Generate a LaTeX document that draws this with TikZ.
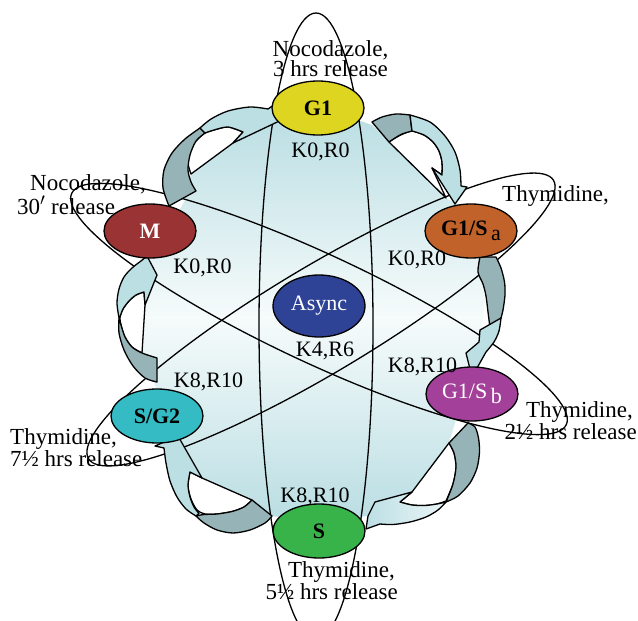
\documentclass[tikz,border=0pt]{standalone}
\usepackage{fontspec}
\setmainfont{Liberation Serif}
\usetikzlibrary{shapes.geometric}
\definecolor{bandlight}{RGB}{188,223,228}
\definecolor{banddark}{RGB}{150,180,183}
\definecolor{blobedge}{RGB}{186,222,227}
\definecolor{blobmid}{RGB}{246,251,251}
\definecolor{cGone}{RGB}{221,213,31}
\definecolor{cM}{RGB}{154,51,51}
\definecolor{cGSa}{RGB}{192,98,42}
\definecolor{cAsync}{RGB}{47,67,150}
\definecolor{cGSb}{RGB}{163,65,154}
\definecolor{cSGtwo}{RGB}{53,187,195}
\definecolor{cS}{RGB}{55,179,74}
\begin{document}
\begin{tikzpicture}[x=1pt,y=-1pt,line join=round,
  outline/.style={draw=black,line width=1.3pt},
  orbit/.style={outline},
  hole/.style={outline,fill=white},
  twist/.style={outline,fill=banddark},
  band/.style={outline,fill=bandlight},
  phase/.style={ellipse,outline,minimum width=92pt,minimum height=54pt,inner sep=0pt,
    font=\fontsize{22pt}{22pt}\selectfont},
  klabel/.style={anchor=base,inner sep=0pt,font=\fontsize{22pt}{22pt}\selectfont},
  note/.style={inner sep=0pt,font=\fontsize{23pt}{18.3pt}\selectfont}]
\useasboundingbox (0,0) rectangle (638,621);

% shaded body of the cycle
\shade[top color=blobedge,bottom color=blobedge,middle color=blobmid]
  (185,200) -- (191,174) -- (233,143) -- (262,125) -- (300,114) -- (340,114)
  -- (372,125) -- (389,142) -- (446,198) -- (470,212) -- (483,250) -- (481,272)
  -- (485,300) -- (481,335) -- (468,360) -- (462,400) -- (449,443) -- (412,492)
  -- (375,502) -- (367,516) -- (330,520) -- (300,520) -- (272,516) -- (252,500)
  -- (202,478) -- (185,447) -- (165,420) -- (157,390) -- (145,362) -- (142,353)
  -- (145,305) -- (157,275) -- (150,260) -- (170,228) -- cycle;

% three synchronisation loops
\draw[orbit] (316,326) ellipse [x radius=57pt,y radius=313pt];
\draw[orbit,rotate around={-25.07:(319,309)}] (319,309) ellipse [x radius=273pt,y radius=54pt];
\draw[orbit,rotate around={30.9:(321,319.5)}] (321,319.5) ellipse [x radius=271pt,y radius=53pt];

% curved arrow M -> G1
\path[hole] (191,174) -- plot[smooth] coordinates {(191,174) (188,163) (190,151) (196,141) (205,133) (214,130) (228,127) (243,132)} -- (233,143) -- cycle;
\path[twist] (169,206) -- plot[smooth] coordinates {(169,206) (163,188) (164,170) (172,153) (185,139) (200,128)} -- (205,133)
  -- plot[smooth] coordinates {(205,133) (196,141) (190,155) (188,170) (191,182) (196,191)} -- cycle;
\path[band] (200,128) -- plot[smooth] coordinates {(200,128) (211,119) (228,111) (250,107) (268,109)} -- (278,102) -- (292,115)
  -- (233,143) -- (243,132) -- plot[smooth] coordinates {(243,132) (228,127) (214,130) (205,133)} -- cycle;

% curved arrow G1 -> G1/S a
\path[hole] (389,142) -- plot[smooth] coordinates {(389,142) (396,137.5) (404,133.5) (412,131) (424,135) (433,142) (439,151) (442,162) (442,175)} -- (432,168) -- (446,198) -- cycle;
\path[twist] (372,122) -- plot[smooth] coordinates {(372,122) (382,117) (396,114) (410,115)} -- (412,131)
  -- plot[smooth] coordinates {(412,131) (402,134) (395,138) (389,142)} -- cycle;
\path[band] (410,115) -- plot[smooth] coordinates {(410,115) (430,122) (445,136) (455,152) (460,170) (461,186)} -- (467,187) -- (455,204)
  -- (432,168) -- (442,175) -- plot[smooth] coordinates {(442,175) (442,162) (439,151) (433,142) (424,135) (412,131)} -- cycle;

% curved arrow G1/S a -> G1/S b
\path[twist] (480,257) -- (496,257) -- plot[smooth] coordinates {(496,257) (501,268) (504.5,282) (505,295) (503,310) (501,318)} -- (490,328)
  -- plot[smooth] coordinates {(490,328) (488,312) (486,296) (483,284) (478,272) (480,257)} -- cycle;
\path[band] (501,318) -- plot[smooth] coordinates {(501,318) (499,331) (494,342) (486,352)} -- (472,377) -- (466,353) -- (479,342) -- (480,330) -- cycle;

% curved arrow G1/S b -> S
\path[hole] (449,443) -- plot[smooth] coordinates {(449,443) (454,453) (456,467) (453,484) (446,501)}
  -- plot[smooth] coordinates {(446,501) (437,504) (425,505.5) (412,505) (400,502)} -- (412,492) -- cycle;
\path[twist] (468,423) -- plot[smooth] coordinates {(468,423) (475,427) (478.5,438) (479.5,452) (477,468) (470,483) (458,496) (446,502)}
  -- plot[smooth] coordinates {(446,502) (453,484) (456,467) (454,453) (449,443)} -- cycle;
\path[band,left color=bandlight,right color=white!70!bandlight] (446,502) -- plot[smooth] coordinates {(446,502) (438,510) (426,517) (410,522) (393,524.5) (380,524)}
  -- (366,529) -- (368,516) -- (375,502) -- (412,492) -- (400,502)
  -- plot[smooth] coordinates {(400,502) (412,505) (425,505.5) (437,504) (446,502)} -- cycle;

% curved arrow S -> S/G2
\path[hole] (252,500) -- plot[smooth] coordinates {(252,500) (244,507) (232,511.5) (217,514) (205,514) (197,510) (191,499) (188,486) (190,472)} -- (202,478) -- cycle;
\path[twist] (252,500) -- (272,516) -- plot[smooth] coordinates {(272,516) (265,523) (250,530) (233,533) (217,530) (204,523) (196,516)}
  -- plot[smooth] coordinates {(196,516) (204,514.5) (217,514) (232,511.5) (244,507) (252,500)} -- cycle;
\path[band] (196,516) -- plot[smooth] coordinates {(196,516) (186,509) (177,497) (170,481) (166,463) (164,448)} -- (155,446) -- (178,436)
  -- (202,478) -- (190,472) -- plot[smooth] coordinates {(190,472) (188,485) (190,497) (194,507) (199,513.5)} -- cycle;

% curved arrow S/G2 -> M
\path[hole] (142,353) -- plot[smooth] coordinates {(142,353) (132,347) (125,337) (121,325) (120,317) (123,309) (129,301) (136,295) (144,292)} -- (145,305) -- cycle;
\path[twist] (157,382) -- (157,358) -- plot[smooth] coordinates {(157,358) (142,353) (132,347) (125,337) (121,325) (119,318)}
  -- plot[smooth] coordinates {(119,318) (119,333) (124,350) (133,366) (145,378) (157,382)} -- cycle;
\path[band] (119,318) -- plot[smooth] coordinates {(119,318) (117,303) (119,289) (124,277) (132,268) (141,261)} -- (147,256) -- (157,275)
  -- (145,305) -- (144,292) -- plot[smooth] coordinates {(144,292) (136,295) (129,301) (123,309) (120,317)} -- cycle;

% cell-cycle phases
\node[phase,fill=cGone] (g1) at (318,108) {\bfseries G1};
\node[phase,fill=cM,text=white] (m) at (150,231) {\bfseries M};
\node[phase,fill=cGSa] (gsa) at (471,231) {\bfseries G1/S\,\raisebox{-5pt}{\mdseries a}};
\node[phase,fill=cAsync,text=white,minimum height=62pt] (async) at (319,306) {Async};
\node[phase,fill=cGSb,text=white] (gsb) at (472,394) {G1/S\,\raisebox{-5pt}{b}};
\node[phase,fill=cSGtwo] (sg2) at (157,416) {\bfseries S/G2};
\node[phase,fill=cS] (s) at (319,531) {\bfseries S};

% kinase / regulator levels
\node[klabel] (kg1) at (320.5,157.7) {K0,R0};
\node[klabel] (km) at (202.5,273.3) {K0,R0};
\node[klabel] (kgsa) at (417,265) {K0,R0};
\node[klabel] (kasync) at (325,356) {K4,R6};
\node[klabel] (ksg2) at (208.5,387.7) {K8,R10};
\node[klabel] (kgsb) at (422.5,372.7) {K8,R10};
\node[klabel] (ks) at (315,502.7) {K8,R10};

% synchronisation treatments
\node[note,align=center,anchor=north] (tg1) at (330.5,40) {Nocodazole,\\3 hrs release};
\node[note,align=left,anchor=north west,font=\fontsize{23pt}{24pt}\selectfont] (tm) at (17,174.3) {\hspace*{13pt}Nocodazole,\\30$'$ release};
\node[note,anchor=base west] (tgsa) at (502,201) {Thymidine,};
\node[note,align=right,anchor=north east,font=\fontsize{23pt}{18pt}\selectfont] (tgsb) at (637,401) {Thymidine,\hspace*{4pt}\\2½ hrs release};
\node[note,align=left,anchor=north west,font=\fontsize{23pt}{21.7pt}\selectfont] (tsg2) at (10,428.3) {Thymidine,\\7½ hrs release};
\node[note,align=right,anchor=north east] (ts) at (398,561.7) {Thymidine,\hspace*{3pt}\\5½ hrs release};
\end{tikzpicture}
\end{document}
